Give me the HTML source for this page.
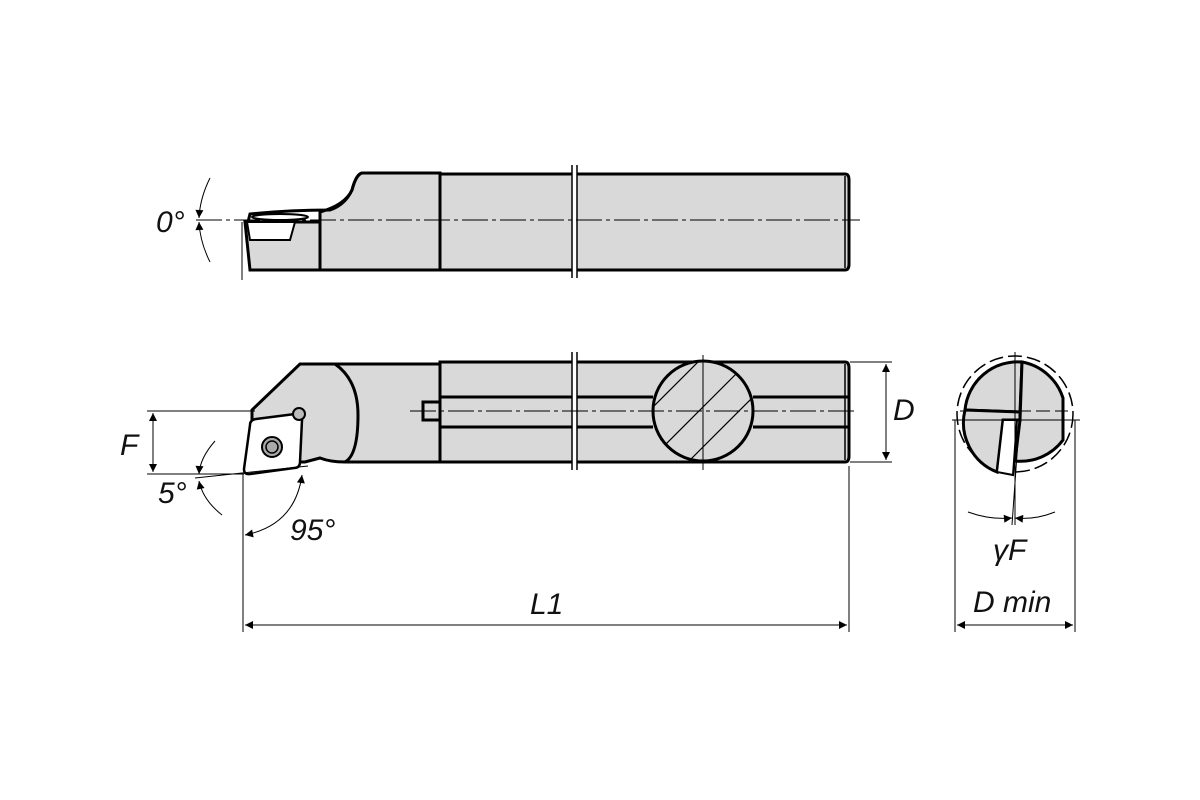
<!DOCTYPE html>
<html><head><meta charset="utf-8"><style>
html,body{margin:0;padding:0;background:#fff}
svg{display:block}
text{font-family:"Liberation Sans",sans-serif;font-style:italic;font-size:30px;fill:#111}
</style></head><body>
<svg width="1200" height="800" viewBox="0 0 1200 800" xmlns="http://www.w3.org/2000/svg">
<defs>
<marker id="ar" viewBox="0 0 10 10" refX="10" refY="5" markerWidth="16" markerHeight="8" orient="auto-start-reverse" markerUnits="userSpaceOnUse"><path d="M0,0 L10,5 L0,10 z" fill="#000"/></marker>
<clipPath id="cc"><circle cx="703" cy="411" r="50"/></clipPath>
</defs>
<g stroke="#000" fill="#d9d9d9">
<!-- TOP VIEW -->
<path d="M440,174 H845 Q849,174 849,180 V264 Q849,270 845,270 H440 Z" stroke-width="3"/>
<path d="M320,212 Q345,205 352,190 Q356,174 362,173 H440 V270 H320 Z" stroke-width="3"/>
<path d="M248,222 L250,214 Q290,210 330,210 Q345,205 352,190 Q356,175 362,173" fill="none" stroke-width="3"/>
<path d="M245,222 H320 V270 H250 Z" stroke-width="3"/>
<path d="M247,222 H295 L290,240 H250 Z" fill="#fff" stroke-width="2"/>
<ellipse cx="280" cy="217" rx="28" ry="3" fill="none" stroke-width="2"/>
<line x1="574" y1="165" x2="574" y2="278" stroke="#fff" stroke-width="5"/>
<line x1="572" y1="165" x2="572" y2="278" stroke-width="1.5"/>
<line x1="577" y1="165" x2="577" y2="278" stroke-width="1.5"/>
<line x1="845" y1="176" x2="845" y2="268" stroke-width="1.5"/>
<!-- BOTTOM VIEW -->
<path d="M300,364 H440 V462 H345 Q330,462 320,458 L305,462 H252 L252,410 L300,364 Z" stroke-width="3"/>
<path d="M335,364 Q358,380 358,415 Q358,455 345,462" fill="none" stroke-width="3"/>
<path d="M440,362 H845 Q849,362 849,368 V456 Q849,462 845,462 H440 Z" stroke-width="3"/>
<path d="M440,397 H653 M753,397 H849 M440,427 H653 M753,427 H849" fill="none" stroke-width="3"/>
<path d="M440,402 H423 V420 H440" fill="none" stroke-width="3"/>
<line x1="845" y1="364" x2="845" y2="460" stroke-width="1.5"/>
<line x1="574" y1="352" x2="574" y2="470" stroke="#fff" stroke-width="5"/>
<line x1="572" y1="352" x2="572" y2="470" stroke-width="1.5"/>
<line x1="577" y1="352" x2="577" y2="470" stroke-width="1.5"/>
<circle cx="703" cy="411" r="50" stroke-width="3"/>
<g clip-path="url(#cc)" stroke-width="1.2">
<path d="M620,440 L700,360 M640,470 L760,350 M660,490 L770,380 M690,500 L780,410"/>
</g>
<!-- insert bottom -->
<path d="M250,425 Q250,420 256,419 L295,414 Q302,414 302,420 L300,462 Q300,468 294,468 L250,474 Q244,475 244,469 Z" fill="#fff" stroke-width="2.5"/>
<circle cx="272" cy="447" r="10" fill="#aaa" stroke-width="2"/>
<circle cx="272" cy="447" r="6" fill="none" stroke-width="1.5"/>
<circle cx="299" cy="414" r="6" fill="#bbb" stroke-width="2"/>
<!-- END VIEW -->
<circle cx="1015" cy="414" r="58" fill="none" stroke-width="1.5" stroke-dasharray="14,5"/>
<path d="M1022,362 A53,53 0 0,0 965,410 L1020,412 Z" stroke-width="3"/>
<path d="M1022,362 A53,53 0 0,1 1063,398 L1063,440 A53,53 0 0,1 1015,461 L1020,420 Z" stroke-width="3"/>
<path d="M965,410 A53,53 0 0,0 997,472 L1003,420 L1020,420 L1020,412 Z" stroke-width="3"/>
<path d="M1003,420 L1017,420 L1013,475 L997,472 Z" fill="#fff" stroke-width="2"/>
</g>
<!-- centerlines & dimension lines -->
<g stroke="#000" fill="none" stroke-width="1">
<line x1="196" y1="220" x2="860" y2="220" stroke-dasharray="26,4,4,4"/>
<line x1="242" y1="222" x2="242" y2="280"/>
<path d="M210,178 Q200,198 199,218" marker-end="url(#ar)"/>
<path d="M210,262 Q200,242 199,222" marker-end="url(#ar)"/>
<line x1="410" y1="411" x2="858" y2="411" stroke-dasharray="26,4,4,4"/>
<line x1="703" y1="355" x2="703" y2="470"/>
<line x1="147" y1="411" x2="255" y2="411"/>
<line x1="147" y1="474" x2="244" y2="474"/>
<line x1="195" y1="478" x2="308" y2="466"/>
<line x1="153" y1="413" x2="153" y2="472" marker-start="url(#ar)" marker-end="url(#ar)"/>
<path d="M215,441 Q200,458 199,474" marker-end="url(#ar)"/>
<path d="M199,481 Q203,500 222,515" marker-start="url(#ar)"/>
<line x1="243" y1="474" x2="243" y2="632"/>
<path d="M245,535 Q295,525 302,475" marker-start="url(#ar)" marker-end="url(#ar)"/>
<line x1="849" y1="466" x2="849" y2="632"/>
<line x1="245" y1="625" x2="847" y2="625" marker-start="url(#ar)" marker-end="url(#ar)"/>
<line x1="850" y1="362" x2="892" y2="362"/>
<line x1="850" y1="462" x2="892" y2="462"/>
<line x1="886" y1="364" x2="886" y2="460" marker-start="url(#ar)" marker-end="url(#ar)"/>
<line x1="952" y1="420" x2="1080" y2="420"/>
<line x1="960" y1="411" x2="1068" y2="411" stroke-dasharray="14,5"/>
<line x1="1015" y1="352" x2="1015" y2="525"/>
<line x1="1020" y1="412" x2="1012" y2="525"/>
<line x1="955" y1="420" x2="955" y2="632"/>
<line x1="1075" y1="420" x2="1075" y2="632"/>
<line x1="957" y1="625" x2="1073" y2="625" marker-start="url(#ar)" marker-end="url(#ar)"/>
<path d="M968,512 Q990,520 1012,518" marker-end="url(#ar)"/>
<path d="M1055,512 Q1035,520 1015,518" marker-end="url(#ar)"/>
</g>
<text x="156" y="232">0°</text>
<text x="120" y="455">F</text>
<text x="158" y="503">5°</text>
<text x="290" y="540">95°</text>
<text x="530" y="614">L1</text>
<text x="893" y="420">D</text>
<text x="993" y="560">γF</text>
<text x="973" y="612">D min</text>
</svg>
</body></html>
